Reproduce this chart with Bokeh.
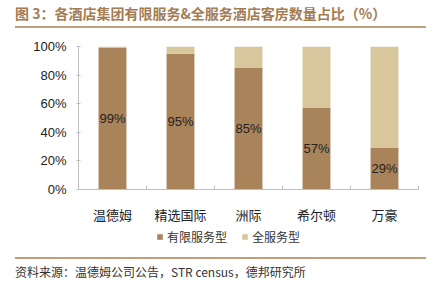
from bokeh.plotting import figure
from bokeh.layouts import column
from bokeh.models import (ColumnDataSource, FixedTicker, PrintfTickFormatter,
                          Legend, LegendItem, Range1d, Div)
from bokeh.embed import file_html
from bokeh.resources import INLINE

categories = ["温德姆", "精选国际", "洲际", "希尔顿", "万豪"]
limited = [99, 95, 85, 57, 29]
full = [1, 5, 15, 43, 71]
y_ticks = [0, 20, 40, 60, 80, 100]
series_names = ["有限服务型", "全服务型"]
title_text = "图 3：各酒店集团有限服务&全服务酒店客房数量占比（%）"
source_text = "资料来源：温德姆公司公告，STR census，德邦研究所"

C_LIM = "#A9835A"
C_FULL = "#D8C69D"
C_LINE = "#BF9F7C"
C_TITLE = "#A57C52"
CJK = "Noto Sans CJK SC"

W = 436
FL, FR = 78, 418

# ---------- title (HTML) + rule ----------
title_div = Div(width=W - 15, height=26, margin=(0, 0, 0, 15), text=title_text,
                styles={"font-family": CJK, "font-size": "14px", "font-weight": "bold",
                        "color": C_TITLE, "line-height": "26px", "white-space": "nowrap"})
rule_top = Div(width=411, height=2, margin=(0, 0, 0, 15), text="",
               styles={"background-color": C_LINE})

# ---------- main chart ----------
xs = [i + 0.5 for i in range(len(categories))]
src = ColumnDataSource(dict(
    x=xs, lim=limited, full=full,
    top_full=[a + b for a, b in zip(limited, full)],
    mid=[v / 2 for v in limited],
    lbl=[f"{v}%" for v in limited],
))

p = figure(width=W, height=198, output_backend="svg", toolbar_location=None,
           x_range=Range1d(0, len(categories)), y_range=Range1d(0, 100),
           min_border_left=FL, min_border_right=W - FR, min_border_top=18,
           min_border_bottom=36)
p.outline_line_color = None
p.grid.grid_line_color = None

p.vbar(x="x", width=0.41, bottom=0, top="lim", source=src, color=C_LIM, line_color=None)
p.vbar(x="x", width=0.41, bottom="lim", top="top_full", source=src, color=C_FULL, line_color=None)
p.text(x="x", y="mid", text="lbl", source=src, text_align="center", text_baseline="middle",
       text_font_size="13px", text_color="#222222", text_font={"value": "Liberation Sans"})

p.xaxis.ticker = FixedTicker(ticks=xs, minor_ticks=list(range(len(categories) + 1)))
p.xaxis.major_label_overrides = {x: c for x, c in zip(xs, categories)}
p.xaxis.major_tick_line_color = None
p.xaxis.minor_tick_line_color = "#BFBFBF"
p.xaxis.minor_tick_in = 4
p.xaxis.minor_tick_out = 0
p.xaxis.axis_line_color = "#BFBFBF"
p.xaxis.major_label_text_font = CJK
p.xaxis.major_label_text_font_size = "13px"
p.xaxis.major_label_text_color = "#222222"
p.xaxis.major_label_standoff = 9

p.yaxis.ticker = FixedTicker(ticks=y_ticks, minor_ticks=[])
p.yaxis.formatter = PrintfTickFormatter(format="%d%%")
p.yaxis.axis_line_color = "#BFBFBF"
p.yaxis.major_tick_line_color = "#BFBFBF"
p.yaxis.major_tick_in = 2
p.yaxis.major_tick_out = 2
p.yaxis.major_label_text_font = "Liberation Sans"
p.yaxis.major_label_text_font_size = "13px"
p.yaxis.major_label_text_color = "#222222"
p.yaxis.major_label_standoff = 10

# ---------- legend strip (its frame is aligned with the main frame) ----------
H_LEG = 26
leg = figure(width=W, height=H_LEG, output_backend="svg", toolbar_location=None,
             x_range=Range1d(0, 1), y_range=Range1d(0, 1),
             x_axis_type=None, y_axis_type=None,
             min_border_left=FL, min_border_right=W - FR, min_border_top=0,
             min_border_bottom=0)
leg.outline_line_color = None
leg.grid.grid_line_color = None
# zero-height stand-ins that only carry the legend swatch colours
d1 = leg.vbar(x=[0], bottom=[0], top=[0], width=0, color=C_LIM, line_color=None)
d2 = leg.vbar(x=[0], bottom=[0], top=[0], width=0, color=C_FULL, line_color=None)
legend = Legend(items=[LegendItem(label=series_names[0], renderers=[d1]),
                       LegendItem(label=series_names[1], renderers=[d2])],
                orientation="horizontal", location=(156 - FL, 7),
                label_text_font=CJK, label_text_font_size="12px", label_text_color="#333333",
                glyph_width=7, glyph_height=7, label_height=16, spacing=14, label_standoff=4,
                background_fill_alpha=0, border_line_color=None, padding=0, margin=0)
leg.add_layout(legend, "center")

# ---------- rule + source (HTML) ----------
rule_bot = Div(width=411, height=2, margin=(5, 0, 0, 15), text="",
               styles={"background-color": C_LINE})
source_div = Div(width=W - 15, height=37, margin=(0, 0, 0, 15), text=source_text,
                 styles={"font-family": CJK, "font-size": "12px", "color": "#333333",
                         "line-height": "16px", "padding-top": "5px",
                         "white-space": "nowrap", "box-sizing": "border-box"})

layout = column(title_div, rule_top, p, leg, rule_bot, source_div, spacing=0)
open("out.html", "w").write(file_html(layout, INLINE))
